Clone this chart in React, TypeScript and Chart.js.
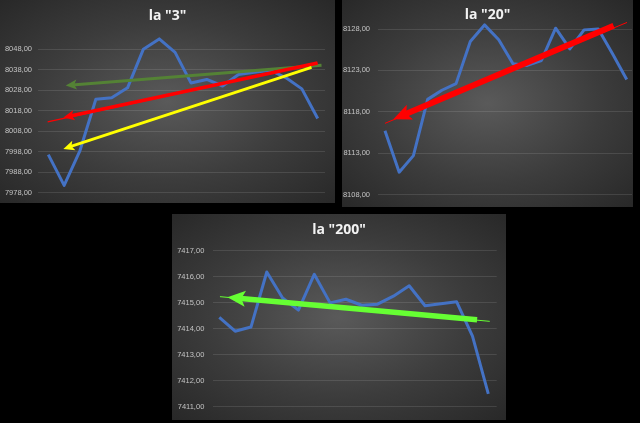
import { useEffect, useRef } from "react";
import { Chart, registerables } from "chart.js";

Chart.register(...registerables);

// ---- data ----
const sessions = [0, 1, 2, 3, 4, 5, 6, 7, 8, 9, 10, 11, 12, 13, 14, 15, 16, 17];

const values3 = [7996.5, 7981.5, 7998.5, 8023.5, 8024.3, 8029.1, 8048.0, 8053.0, 8046.4, 8031.5, 8033.2, 8030.0, 8035.6, 8036.7, 8037.7, 8034.0, 8028.6, 8014.1];
const ticks3 = [7978, 7988, 7998, 8008, 8018, 8028, 8038, 8048];

const values20 = [8115.7, 8110.7, 8112.7, 8119.5, 8120.6, 8121.4, 8126.5, 8128.5, 8126.7, 8123.8, 8123.6, 8124.2, 8128.1, 8125.6, 8127.9, 8128.0, 8125.0, 8121.9];
const ticks20 = [8108, 8113, 8118, 8123, 8128];

const values200 = [7414.43, 7413.9, 7414.06, 7416.18, 7415.18, 7414.71, 7416.09, 7414.99, 7415.13, 7414.9, 7414.94, 7415.25, 7415.65, 7414.88, 7414.96, 7415.03, 7413.71, 7411.49];
const ticks200 = [7411, 7412, 7413, 7414, 7415, 7416, 7417];

// trend arrows: [session, price] of start and of tip
const arrow3Green = [[17.24, 8040.1], [1.1, 8030.3]];
const arrow3Red = [[16.99, 8041.2], [0.95, 8014.6]];
const arrow3RedThin = [[16.99, 8041.2], [-0.04, 8012.5]];
const arrow3Yellow = [[16.61, 8039.1], [0.95, 7999.3]];
const arrow20Red = [[16.08, 8128.4], [0.59, 8117.1]];
const arrow20RedThin = [[17.02, 8128.8], [0.0, 8116.6]];
const arrow200Green = [[16.29, 7414.34], [0.51, 7415.21]];
const arrow200GreenThin = [[17.09, 7414.28], [0.04, 7415.23]];

// ---- plugins ----
const arrowPlugin = {
  id: "arrowHeads",
  beforeDatasetDraw(chart: any, args: any) {
    const ds = chart.data.datasets[args.index];
    if (!ds.arrowHead) return;
    const pts = args.meta.data;
    const p0 = pts[0], p1 = pts[1];
    const dx = p1.x - p0.x, dy = p1.y - p0.y;
    const L = Math.hypot(dx, dy) || 1;
    const ux = dx / L, uy = dy / L, nx = -uy, ny = ux;
    const back = ds.arrowHead.length * 0.7;
    const bx = p1.x - ux * back, by = p1.y - uy * back;
    const ctx = chart.ctx;
    ctx.save();
    ctx.beginPath();
    ctx.moveTo(bx + nx * 2000, by + ny * 2000);
    ctx.lineTo(bx - nx * 2000, by - ny * 2000);
    ctx.lineTo(bx - nx * 2000 - ux * 4000, by - ny * 2000 - uy * 4000);
    ctx.lineTo(bx + nx * 2000 - ux * 4000, by + ny * 2000 - uy * 4000);
    ctx.closePath();
    ctx.clip();
  },
  afterDatasetDraw(chart: any, args: any) {
    const ds = chart.data.datasets[args.index];
    if (!ds.arrowHead) return;
    const ctx = chart.ctx;
    ctx.restore();
    const pts = args.meta.data;
    const p0 = pts[0], p1 = pts[1];
    const dx = p1.x - p0.x, dy = p1.y - p0.y;
    const L = Math.hypot(dx, dy) || 1;
    const ux = dx / L, uy = dy / L, nx = -uy, ny = ux;
    const len = ds.arrowHead.length, hw = ds.arrowHead.width / 2;
    ctx.save();
    ctx.fillStyle = ds.borderColor;
    ctx.beginPath();
    ctx.moveTo(p1.x, p1.y);
    ctx.lineTo(p1.x - ux * len + nx * hw, p1.y - uy * len + ny * hw);
    ctx.lineTo(p1.x - ux * len * 0.78, p1.y - uy * len * 0.78);
    ctx.lineTo(p1.x - ux * len - nx * hw, p1.y - uy * len - ny * hw);
    ctx.closePath();
    ctx.fill();
    ctx.restore();
  },
};

const titlePlugin = {
  id: "panelTitle",
  afterDraw(chart: any, _args: any, opts: any) {
    const ctx = chart.ctx;
    ctx.save();
    ctx.font = 'bold 14px "Open Sans", "Liberation Sans", sans-serif';
    ctx.fillStyle = "#f2f2f2";
    ctx.textAlign = "center";
    ctx.textBaseline = "middle";
    ctx.fillText(opts.text, chart.width / 2, opts.y);
    ctx.restore();
  },
};

// ---- panels ----
type Arrow = { pts: number[][]; color: string; width: number; head?: { length: number; width: number } };

type Panel = {
  title: string;
  left: number; top: number; w: number; h: number;
  values: number[]; ticks: number[];
  yMin: number; yMax: number; xMin: number; xMax: number;
  padTop: number; padBottom: number; padRight: number; axisW: number; tickPad: number;
  titleY: number;
  arrows: Arrow[];
};

const panels: Panel[] = [
  {
    title: 'la "3"', left: 0, top: 0, w: 335, h: 203,
    values: values3, ticks: ticks3, yMin: 7978, yMax: 8055, xMin: -0.65, xMax: 17.46,
    padTop: 34.8, padBottom: 9, padRight: 10, axisW: 38, tickPad: 6, titleY: 16,
    arrows: [
      { pts: arrow3Green, color: "#548235", width: 3, head: { length: 11, width: 10 } },
      { pts: arrow3RedThin, color: "#ff0000", width: 1.2 },
      { pts: arrow3Red, color: "#ff0000", width: 3.6, head: { length: 11, width: 10 } },
      { pts: arrow3Yellow, color: "#ffff00", width: 2.8, head: { length: 11, width: 10 } },
    ],
  },
  {
    title: 'la "20"', left: 342, top: 0, w: 291, h: 207,
    values: values20, ticks: ticks20, yMin: 8108, yMax: 8130, xMin: -0.49, xMax: 17.37,
    padTop: 7.4, padBottom: 6, padRight: 1, axisW: 36, tickPad: 8, titleY: 15,
    arrows: [
      { pts: arrow20RedThin, color: "#ff0000", width: 1 },
      { pts: arrow20Red, color: "#ff0000", width: 6, head: { length: 18, width: 16 } },
    ],
  },
  {
    title: 'la "200"', left: 172, top: 214, w: 334, h: 206,
    values: values200, ticks: ticks200, yMin: 7411, yMax: 7417, xMin: -0.38, xMax: 17.53,
    padTop: 36.7, padBottom: 9.3, padRight: 9.3, axisW: 41.3, tickPad: 9, titleY: 16.5,
    arrows: [
      { pts: arrow200GreenThin, color: "#66ff33", width: 1 },
      { pts: arrow200Green, color: "#66ff33", width: 5.5, head: { length: 18, width: 16 } },
    ],
  },
];

function PanelChart({ p }: { p: Panel }) {
  const ref = useRef<HTMLCanvasElement | null>(null);
  useEffect(() => {
    if (!ref.current) return;
    const datasets: any[] = [
      {
        data: sessions.map((s, i) => ({ x: s, y: p.values[i] })),
        borderColor: "#4472c4",
        borderWidth: 3,
        pointRadius: 0,
        tension: 0,
        borderJoinStyle: "round",
        order: 10,
      },
      ...p.arrows.map((a, k) => ({
        data: a.pts.map((pt) => ({ x: pt[0], y: pt[1] })),
        borderColor: a.color,
        borderWidth: a.width,
        pointRadius: 0,
        tension: 0,
        order: 5 - k,
        arrowHead: a.head,
      })),
    ];
    const chart = new Chart(ref.current, {
      type: "line",
      data: { datasets },
      options: {
        animation: false,
        responsive: false,
        maintainAspectRatio: false,
        layout: { padding: { left: 0, top: p.padTop, right: p.padRight, bottom: p.padBottom } },
        plugins: {
          legend: { display: false },
          tooltip: { enabled: false },
          title: { display: false },
          panelTitle: { text: p.title, y: p.titleY },
        } as any,
        scales: {
          x: { type: "linear", display: false, min: p.xMin, max: p.xMax },
          y: {
            min: p.yMin,
            max: p.yMax,
            afterBuildTicks: (s: any) => {
              s.ticks = p.ticks.map((v) => ({ value: v }));
            },
            afterFit: (s: any) => {
              s.width = p.axisW;
            },
            ticks: {
              padding: p.tickPad,
              color: "#c4c4c4",
              font: { family: '"Liberation Sans", Arial, sans-serif', size: 7.5 },
              callback: (v: any) => Number(v).toFixed(2).replace(".", ","),
            },
            grid: { color: "rgba(255,255,255,0.11)", lineWidth: 1, drawTicks: false },
            border: { display: false },
          },
        },
      },
      plugins: [arrowPlugin as any, titlePlugin as any],
    });
    return () => chart.destroy();
  }, [p]);
  return (
    <div
      style={{
        position: "absolute",
        left: p.left,
        top: p.top,
        width: p.w,
        height: p.h,
        background: "radial-gradient(ellipse farthest-corner at 50% 50%, #5a5a5a 0%, #3c3c3c 55%, #282828 100%)",
      }}
    >
      <canvas ref={ref} width={p.w} height={p.h} style={{ width: p.w, height: p.h, display: "block" }} />
    </div>
  );
}

export default function App() {
  return (
    <div style={{ position: "fixed", left: 0, top: 0, width: 640, height: 423, background: "#000", overflow: "hidden" }}>
      {panels.map((p) => (
        <PanelChart key={p.title} p={p} />
      ))}
    </div>
  );
}
